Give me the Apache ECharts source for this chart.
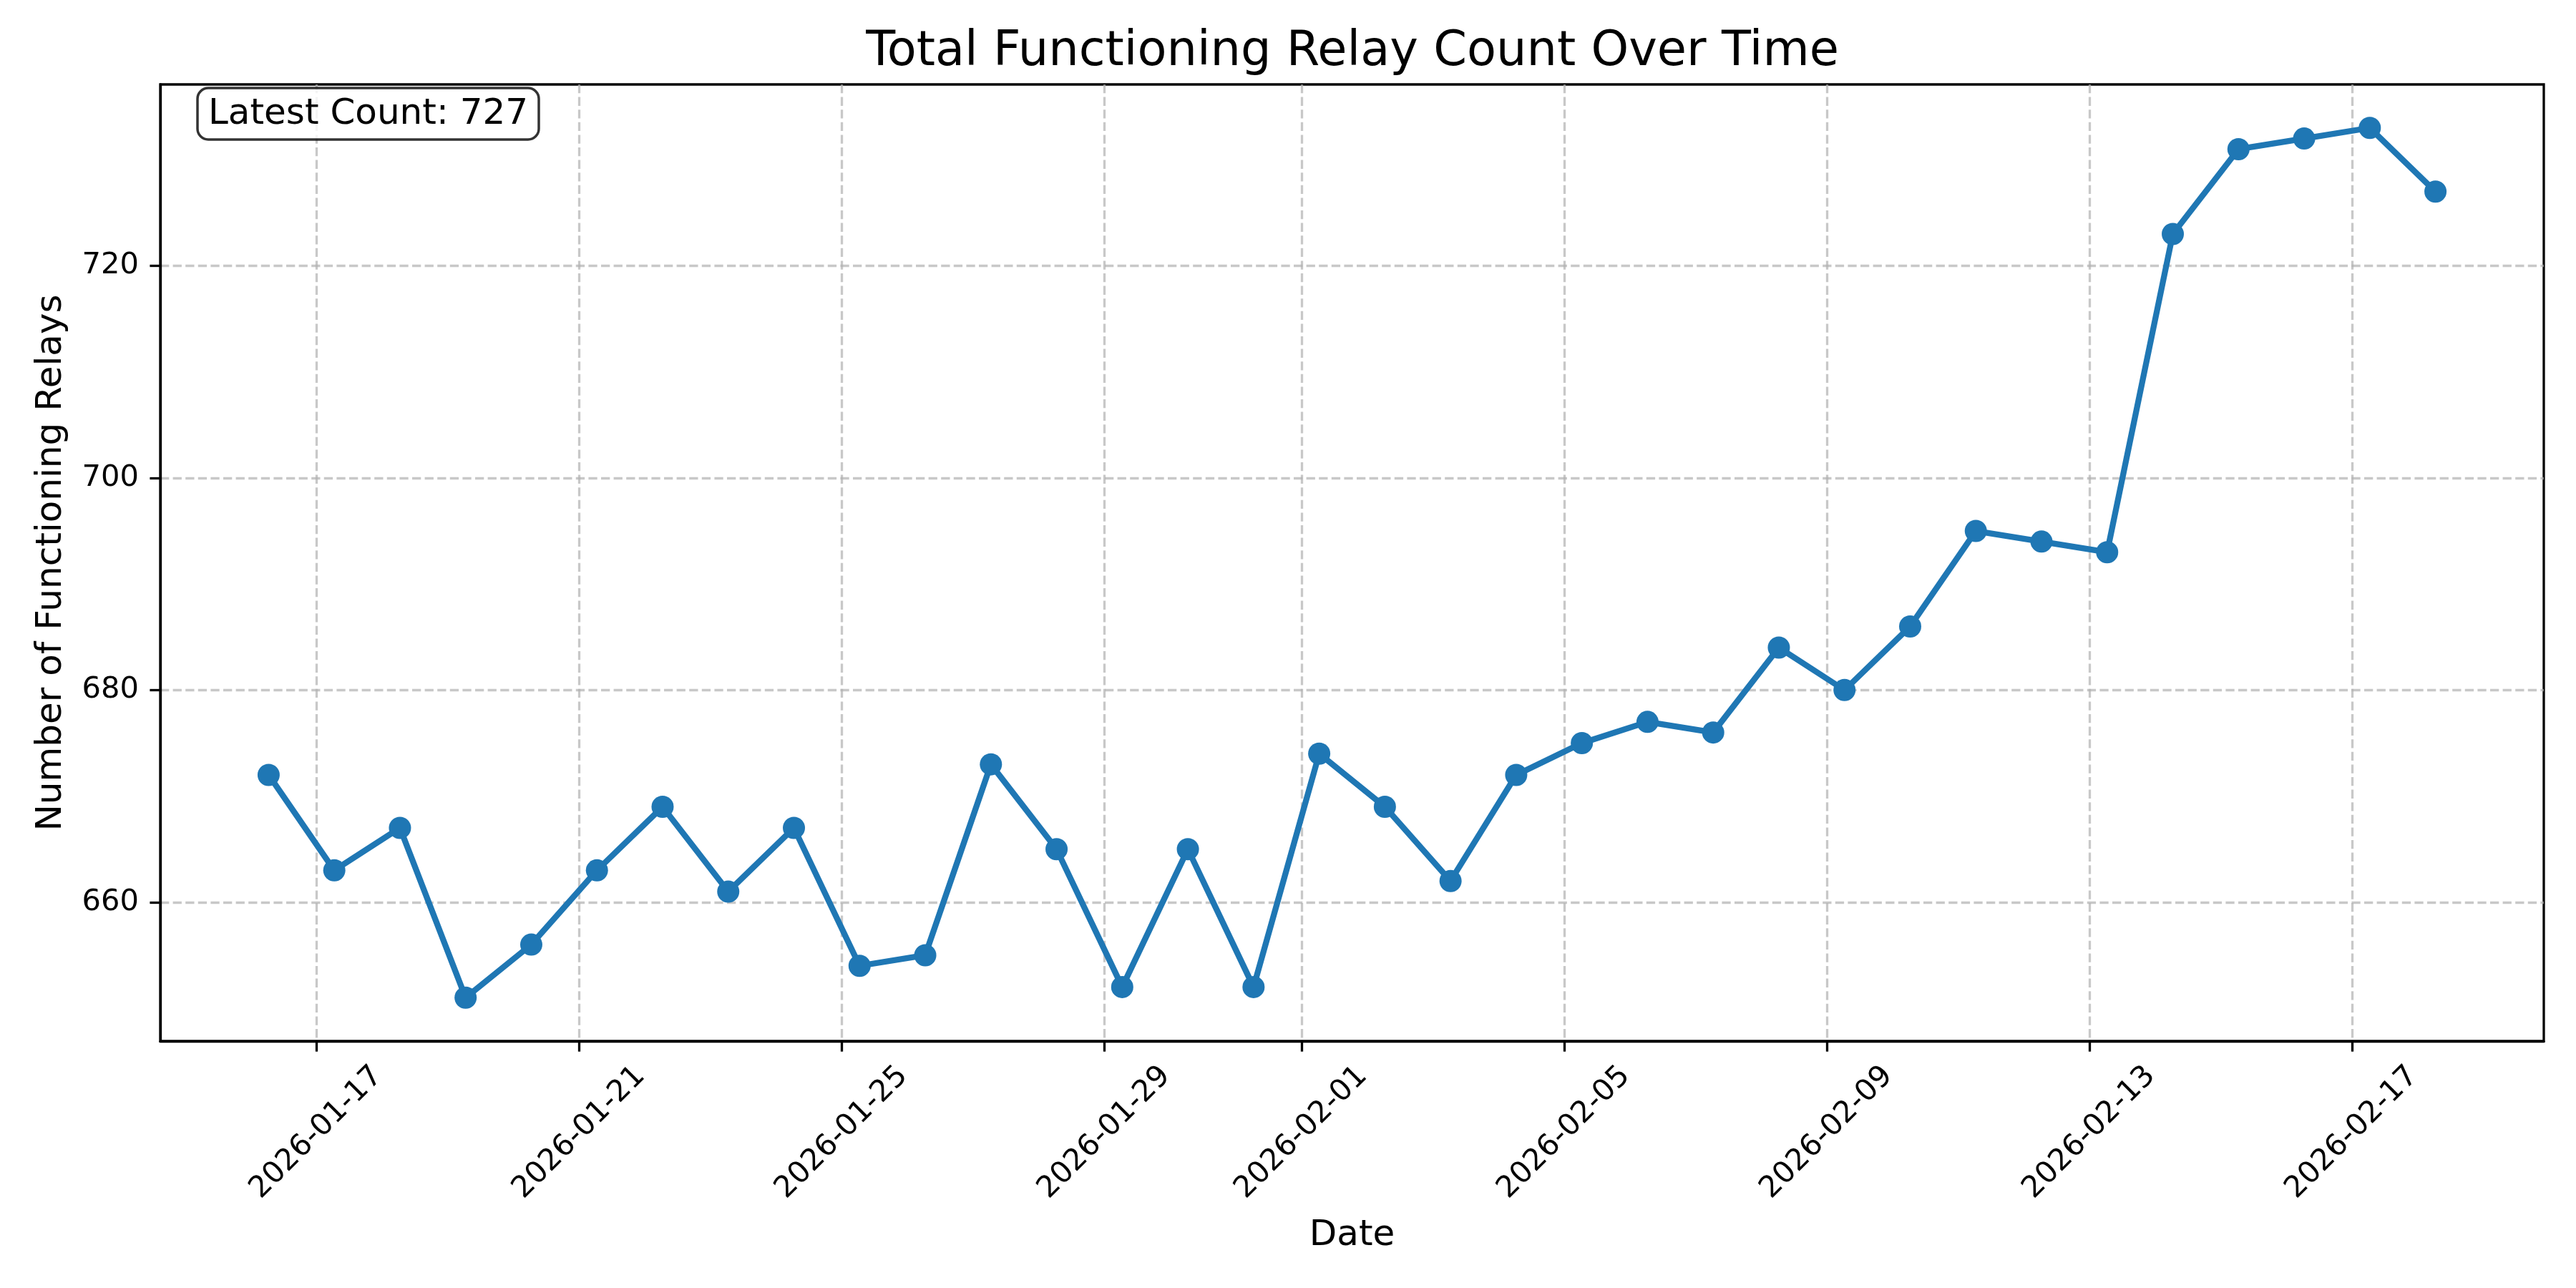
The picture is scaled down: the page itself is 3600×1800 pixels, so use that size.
<!DOCTYPE html>
<html>
<head>
<meta charset="utf-8">
<title>Total Functioning Relay Count Over Time</title>
<script src="https://cdn.jsdelivr.net/npm/echarts@6/dist/echarts.min.js"></script>
<style>
  html, body { margin: 0; padding: 0; background: #fff; }
  #chart { width: 3600px; height: 1800px; }
</style>
</head>
<body>
<div id="chart"></div>
<script>
// one sample per day, taken at the same time of day
const dates = [
  '2026-01-16', '2026-01-17', '2026-01-18', '2026-01-19', '2026-01-20', '2026-01-21',
  '2026-01-22', '2026-01-23', '2026-01-24', '2026-01-25', '2026-01-26', '2026-01-27',
  '2026-01-28', '2026-01-29', '2026-01-30', '2026-01-31', '2026-02-01', '2026-02-02',
  '2026-02-03', '2026-02-04', '2026-02-05', '2026-02-06', '2026-02-07', '2026-02-08',
  '2026-02-09', '2026-02-10', '2026-02-11', '2026-02-12', '2026-02-13', '2026-02-14',
  '2026-02-15', '2026-02-16', '2026-02-17', '2026-02-18'
];
const sampleTime = '06:30:00';
const counts = [
  672, 663, 667, 651, 656, 663, 669, 661, 667, 654, 655, 673,
  665, 652, 665, 652, 674, 669, 662, 672, 675, 677, 676, 684,
  680, 686, 695, 694, 693, 723, 731, 732, 733, 727
];
const xTickDates = ['2026-01-17', '2026-01-21', '2026-01-25', '2026-01-29', '2026-02-01',
  '2026-02-05', '2026-02-09', '2026-02-13', '2026-02-17'];
const yTicks = [660, 680, 700, 720];

const toTime = (d, t) => new Date(d + 'T' + t).getTime();
const points = dates.map((d, i) => [toTime(d, sampleTime), counts[i]]);
const xTicks = xTickDates.map(d => toTime(d, '00:00:00'));

// matplotlib-like 5% margins
const tMin = points[0][0], tMax = points[points.length - 1][0];
const tPad = (tMax - tMin) * 0.05;
const vMin = Math.min(...counts), vMax = Math.max(...counts);
const vPad = (vMax - vMin) * 0.05;

const pad2 = n => (n < 10 ? '0' : '') + n;
const fmtDate = v => {
  const d = new Date(v);
  return d.getFullYear() + '-' + pad2(d.getMonth() + 1) + '-' + pad2(d.getDate());
};

const FONT = 'DejaVu Sans';
const gridLine = { color: '#b0b0b0', opacity: 0.7, width: 3.3, type: [12.3, 5.3] };

const chart = echarts.init(document.getElementById('chart'), null, { renderer: 'canvas' });
chart.setOption({
  animation: false,
  backgroundColor: '#fff',
  textStyle: { fontFamily: FONT },
  title: [
    {
      text: 'Total Functioning Relay Count Over Time',
      left: 1890,
      top: 40,
      textAlign: 'center',
      padding: 0,
      textStyle: { fontFamily: FONT, fontSize: 67, fontWeight: 'normal', color: '#000' }
    },
    {
      text: 'Latest Count: ' + counts[counts.length - 1],
      left: 276,
      top: 123,
      padding: [11, 15, 9, 15],
      backgroundColor: 'rgba(255,255,255,0.8)',
      borderColor: 'rgba(0,0,0,0.8)',
      borderWidth: 3.5,
      borderRadius: 15,
      textStyle: { fontFamily: FONT, fontSize: 50, lineHeight: 52, fontWeight: 'normal', color: '#000' }
    }
  ],
  grid: {
    left: 224, right: 45, top: 118, bottom: 345,
    show: true, borderColor: '#000', borderWidth: 3.3, backgroundColor: 'transparent'
  },
  xAxis: {
    type: 'value',
    min: tMin - tPad,
    max: tMax + tPad,
    name: 'Date',
    nameLocation: 'middle',
    nameGap: 247,
    nameTextStyle: { fontFamily: FONT, fontSize: 50, color: '#000', verticalAlign: 'top' },
    axisLine: { lineStyle: { color: '#000', width: 3.3 } },
    axisTick: { show: true, length: 14.6, lineStyle: { color: '#000', width: 3.3 }, customValues: xTicks },
    axisLabel: {
      customValues: xTicks,
      formatter: fmtDate,
      rotate: 45,
      align: 'center',
      verticalAlign: 'middle',
      margin: 128,
      fontFamily: FONT, fontSize: 41.7, color: '#000'
    },
    splitLine: { show: true, lineStyle: gridLine }
  },
  yAxis: {
    type: 'value',
    min: vMin - vPad,
    max: vMax + vPad,
    name: 'Number of Functioning Relays',
    nameLocation: 'middle',
    nameGap: 127,
    nameTextStyle: { fontFamily: FONT, fontSize: 50, color: '#000' },
    axisLine: { show: true, lineStyle: { color: '#000', width: 3.3 } },
    axisTick: { show: true, length: 14.6, lineStyle: { color: '#000', width: 3.3 }, customValues: yTicks },
    axisLabel: { customValues: yTicks, margin: 30, fontFamily: FONT, fontSize: 41.7, color: '#000' },
    splitLine: { show: true, lineStyle: gridLine }
  },
  series: [
    {
      type: 'line',
      data: points,
      showAllSymbol: true,
      symbol: 'circle',
      symbolSize: 31,
      itemStyle: { color: '#1f77b4' },
      lineStyle: { color: '#1f77b4', width: 8.3 },
      z: 3
    }
  ]
});
</script>
</body>
</html>
